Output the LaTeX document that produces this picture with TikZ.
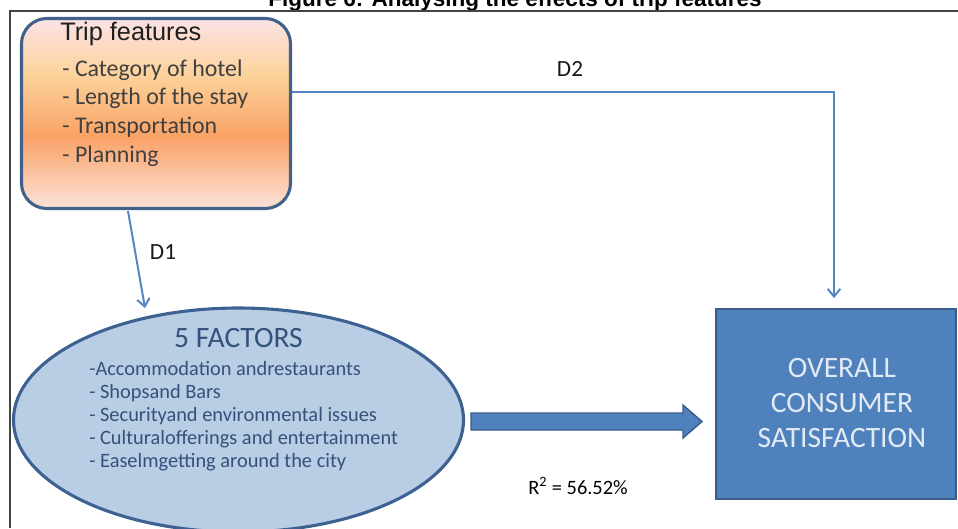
\documentclass[tikz,border=0pt]{standalone}
\usepackage{fontspec}
\setmainfont{Carlito}
\newfontfamily\arialfont{Liberation Sans}
\usetikzlibrary{arrows.meta, shapes.geometric}

\definecolor{framegray}{HTML}{444444}
\definecolor{tripedge}{HTML}{41618A}
\definecolor{linkblue}{HTML}{5585C0}
\definecolor{factfill}{HTML}{B9CDE5}
\definecolor{factedge}{HTML}{3D6190}
\definecolor{facttext}{HTML}{34527A}
\definecolor{satfill}{HTML}{4F81BD}
\definecolor{satedge}{HTML}{385D8A}
\definecolor{sattext}{HTML}{E2EAF4}
\definecolor{tripT}{HTML}{FBE2E6}
\definecolor{tripY}{HTML}{FCD29A}
\definecolor{tripO}{HTML}{F9A266}
\definecolor{tripB}{HTML}{FDE2DA}

% light top, yellow, orange band, light bottom
\pgfdeclareverticalshading{tripshade}{100bp}{color(0bp)=(tripB); color(25bp)=(tripB);
  color(44bp)=(tripO); color(60bp)=(tripY); color(75bp)=(tripT); color(100bp)=(tripT)}

\begin{document}
\begin{tikzpicture}[
    x=0.025cm, y=-0.025cm,
    every node/.style={inner sep=0pt},
    link/.style={draw=linkblue, line width=1.4pt, -{Straight Barb[length=5.5pt,width=9pt]}},
    tripbox/.style={draw=tripedge, line width=2.2pt, rounded corners=18pt, shading=tripshade},
    triphead/.style={font=\arialfont\fontsize{18pt}{21pt}\selectfont, text=black!88},
    triplist/.style={font=\fontsize{17pt}{20pt}\selectfont, text=black!75},
    factbox/.style={ellipse, draw=factedge, fill=factfill, line width=2.2pt},
    facthead/.style={font=\fontsize{21pt}{25pt}\selectfont, text=facttext},
    factlist/.style={font=\fontsize{14.5pt}{17pt}\selectfont, text=facttext},
    satbox/.style={draw=satedge, fill=satfill, line width=1.5pt},
    sattitle/.style={align=center, text=sattext, font=\fontsize{21pt}{24.9pt}\selectfont},
    linklabel/.style={font=\fontsize{16.5pt}{20pt}\selectfont, text=black!90},
    fatarrow/.style={fill=satfill, draw=satedge, line width=1pt},
]
\def\px{0.025cm}

\useasboundingbox (0,0) rectangle (958,528);
\clip (0,0) rectangle (958,528);

% === Title (cut off at the top) ===
\node[font=\arialfont\bfseries\fontsize{16pt}{19pt}\selectfont, anchor=base] (title)
    at (515,6) {Figure 6: Analysing the effects of trip features};

% === Frame ===
\draw[framegray, line width=1.5pt] (10,528) -- (10,11) -- (958,11);

% === Trip features box ===
\node[tripbox, minimum width=269*\px, minimum height=190*\px] (trip) at (156,113.5) {};
\node[triphead, anchor=base west] (triptitle) at (60,40) {Trip features};
\foreach \txt [count=\i] in {Category of hotel, Length of the stay, Transportation, Planning}
    \node[triplist, anchor=base west] (trip\i) at (62,{76+28.8*(\i-1)}) {- \txt};

% === 5 factors ellipse ===
\node[factbox, minimum width=450*\px, minimum height=224*\px] (factors) at (238.5,420) {};
\node[facthead, anchor=base] (factitle) at (238.5,347) {5 FACTORS};
\foreach \txt [count=\i] in {-Accommodation andrestaurants, - Shopsand Bars,
        - Securityand environmental issues, - Culturalofferings and entertainment,
        - Easelmgetting around the city}
    \node[factlist, anchor=base west] (fact\i) at (89,{375+23*(\i-1)}) {\txt};

% === Overall satisfaction box ===
\node[satbox, minimum width=240*\px, minimum height=190*\px] (sat) at (836,404) {};
\node[sattitle] (sattext) at (842,403) {OVERALL\\CONSUMER\\SATISFACTION};

% === D1: trip features -> factors ===
\coordinate (d1top) at (128,211);
\coordinate (d1tip) at (145,308);
\draw[link] (d1top) -- (d1tip);
\node[linklabel] (d1) at (163,252) {D1};

% === D2: trip features -> satisfaction ===
\coordinate (d2turn) at (834,92);
\draw[link, shorten >=7pt] (d2turn -| trip.east) -- (d2turn) -- (d2turn |- sat.north);
\node[linklabel] (d2) at (570,69) {D2};

% === Block arrow: factors -> satisfaction ===
\coordinate (fatstart) at (471,421.5);
\coordinate (fattip) at (702,421.5);
\draw[fatarrow] (fatstart) ++(0,-8.5) -- ++(212,0) -- ++(0,-8) -- (fattip)
    -- ++(-19,16.5) -- ++(0,-8) -- ++(-212,0) -- cycle;
\node[font=\fontsize{14.5pt}{17pt}\selectfont, anchor=base west] (rsq)
    at (528,494) {R\textsuperscript{2} = 56.52\%};

\end{tikzpicture}
\end{document}
